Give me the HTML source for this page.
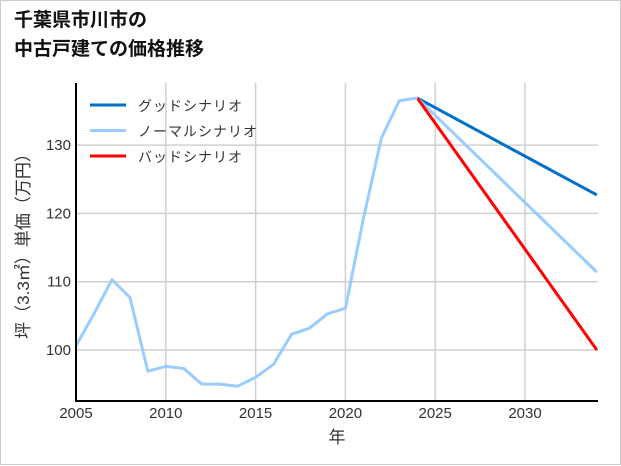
<!DOCTYPE html>
<html><head><meta charset="utf-8"><style>
body{margin:0;background:#fff}
#wrap{position:relative;width:619px;height:463px;border:1px solid #ccc;background:#fff;font-family:"Liberation Sans","Noto Sans CJK JP",sans-serif}
#title{position:absolute;left:13px;top:5px;font-size:19px;font-weight:bold;line-height:29px;color:#111}
svg{position:absolute;left:0;top:0}
</style></head><body>
<div id="wrap">
<div id="title">千葉県市川市の<br>中古戸建ての価格推移</div>
<svg id="chart" width="621" height="465"></svg>
</div>
<script>
const years=[2005,2006,2007,2008,2009,2010,2011,2012,2013,2014,2015,2016,2017,2018,2019,2020,2021,2022,2023,2024];
const prices=[100.6,105.3,110.3,107.7,96.9,97.6,97.3,95.0,95.0,94.7,96.0,97.9,102.3,103.2,105.3,106.1,119.2,131.0,136.5,136.9];
const scenarioNames=["グッドシナリオ","ノーマルシナリオ","バッドシナリオ"];
const scenarioColors=["#0070c8","#99ccff","#ff0000"];
const scenarioStart=[2024,136.9];
const scenarioEndYear=2034;
const scenarioEnd=[122.7,111.4,100.0];
const xTicks=[2005,2010,2015,2020,2025,2030];
const yTicks=[100,110,120,130];
const NS="http://www.w3.org/2000/svg";
const svg=document.getElementById('chart');
const X0=75,X1=597,Y0=82,Y1=400;
const xs=y=>75+(y-2005)*17.96;
const ys=v=>349-(v-100)*6.83;
function mk(t,a){const e=document.createElementNS(NS,t);for(const k in a)e.setAttribute(k,a[k]);svg.appendChild(e);return e;}
xTicks.forEach(t=>{
 const l=mk('line',{x1:xs(t),x2:xs(t),y1:Y0,y2:Y1,stroke:'#d0d0d0','stroke-width':1.5});
 
 
 const tx=mk('text',{x:xs(t),y:417,'text-anchor':'middle','font-size':15,fill:'#333'});tx.textContent=t;
 
 
});
yTicks.forEach(t=>{
 const l=mk('line',{x1:X0,x2:X1,y1:ys(t),y2:ys(t),stroke:'#d0d0d0','stroke-width':1.5});
 
 
 const tx=mk('text',{x:70,y:ys(t)+5,'text-anchor':'end','font-size':15,fill:'#333'});tx.textContent=t;
 
 
});
scenarioNames.forEach((n,i)=>{
 const l=mk('line',{x1:xs(scenarioStart[0]),y1:ys(scenarioStart[1]),x2:xs(scenarioEndYear),y2:ys(scenarioEnd[i]),stroke:scenarioColors[i],'stroke-width':3});
 
 
});
const hp=mk('polyline',{points:years.map((y,i)=>xs(y)+','+ys(prices[i])).join(' '),fill:'none',stroke:'#99ccff','stroke-width':3,'stroke-linejoin':'round'});


const ax1=mk('line',{x1:X0,x2:X0,y1:Y0,y2:Y1+1,stroke:'#000','stroke-width':2});


const ax2=mk('line',{x1:X0-1,x2:X1,y1:Y1,y2:Y1,stroke:'#000','stroke-width':2});


scenarioNames.forEach((n,i)=>{
 const y=104+i*25.5;
 const l=mk('line',{x1:89,x2:125,y1:y,y2:y,stroke:scenarioColors[i],'stroke-width':3});
 
 
 const t=mk('text',{x:137,y:y+6,'font-size':14,fill:'#333','letter-spacing':'1'});t.textContent=n;
 
 
});
const xl=mk('text',{x:336,y:442,'text-anchor':'middle','font-size':17,fill:'#333'});xl.textContent='年';


const yl=mk('text',{x:0,y:0,'text-anchor':'middle','font-size':17,fill:'#333',transform:'translate(28,241) rotate(-90)'});yl.textContent='坪（3.3㎡）単価（万円）';


</script>
</body></html>
